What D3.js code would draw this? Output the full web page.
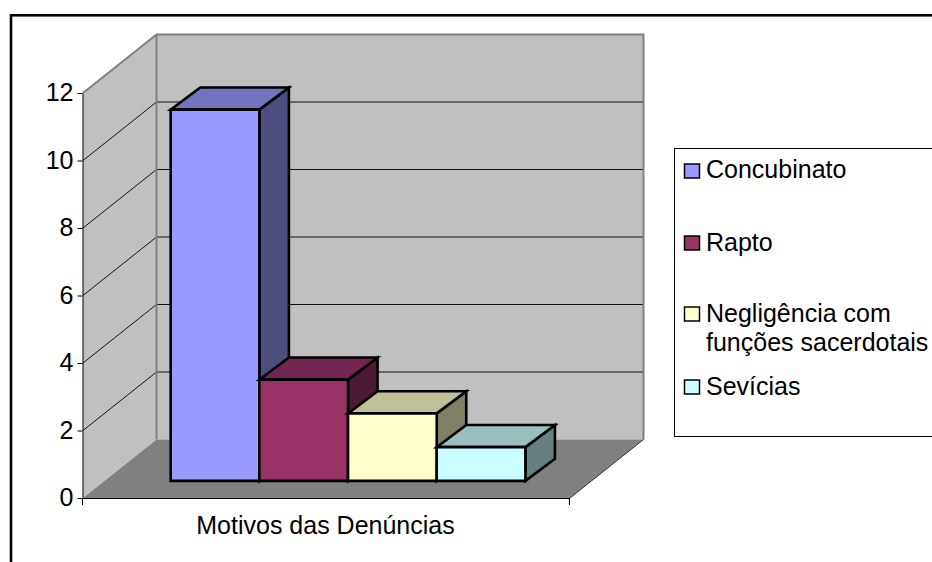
<!DOCTYPE html>
<html><head><meta charset="utf-8">
<script src="https://cdnjs.cloudflare.com/ajax/libs/d3/7.8.5/d3.min.js"></script>
<style>html,body{margin:0;padding:0;background:#fff}svg{display:block}text{font-family:"Liberation Sans",Arial,sans-serif;fill:#000}</style>
</head><body><svg id="c" width="932" height="562"></svg>
<script>
const seriesNames = ["Concubinato","Rapto","Negligência com|funções sacerdotais","Sevícias"];
const seriesValues = [11,3,2,1];
const seriesColors = ["#9999ff","#993366","#ffffcc","#ccffff"];
const topColors = ["#7373bf","#732650","#bfbf99","#99bfbf"];
const sideColors = ["#4d4d80","#4d1a33","#808066","#668080"];
const yTicks = [0,2,4,6,8,10,12];
const categoryLabel = "Motivos das Denúncias";

const svg = d3.select("#c");
const X0=83,X1=570;
const x = d3.scaleBand().domain(d3.range(seriesValues.length)).range([X0,X1]).paddingInner(0).paddingOuter(0.746);
const y = d3.scaleLinear().domain([0,12]).range([498,93]);
const depth = d3.scaleLinear().domain([0,1]).range([0,73.5]);
const rise = d3.scaleLinear().domain([0,1]).range([0,58.5]);
const P = (px,v,z,zr)=>[px+depth(z), y(v)-rise(zr===undefined?z:zr)];
const poly = pts => pts.map(p=>p.join(",")).join(" ");

svg.append("rect").attr("x",11).attr("y",15.3).attr("width",925).attr("height",560).attr("fill","#fff").attr("stroke","#000").attr("stroke-width",2.6);

// walls and floor
svg.append("polygon").attr("points",poly([P(X0,0,1),P(X1,0,1),P(X1,12,1),P(X0,12,1)])).attr("fill","#c0c0c0");
svg.append("polygon").attr("points",poly([P(X0,0,0),P(X0,0,1),P(X0,12,1),P(X0,12,0)])).attr("fill","#c0c0c0");
svg.append("polygon").attr("points",poly([P(X0,0,0),P(X1,0,0),P(X1,0,1),P(X0,0,1)])).attr("fill","#808080");
// gridlines
yTicks.filter(t=>t>0&&t<12).forEach(t=>{
  svg.append("polyline").attr("points",poly([P(X0,t,0),P(X0,t,1),P(X1,t,1)])).attr("fill","none").attr("stroke","#111").attr("stroke-width",1);
});
svg.append("polyline").attr("points",poly([P(X0,12,0),P(X0,12,1),P(X1,12,1),P(X1,0,1)])).attr("fill","none").attr("stroke","#808080").attr("stroke-width",2);
svg.append("line").attr("x1",P(X0,0,1)[0]).attr("y1",P(X0,0,1)[1]).attr("x2",P(X0,12,1)[0]).attr("y2",P(X0,12,1)[1]).attr("stroke","#808080").attr("stroke-width",2);
svg.append("polyline").attr("points",poly([P(X1,0,0),P(X1,0,1)])).attr("fill","none").attr("stroke","#333").attr("stroke-width",1);

// bars
const z0=0.293,z1=0.695,r1=0.67;
seriesValues.forEach((v,i)=>{
  const a=x(i), b=x(i)+x.bandwidth();
  const g=svg.append("g").attr("stroke","#000").attr("stroke-width",2.6).attr("stroke-linejoin","miter");
  g.append("polygon").attr("points",poly([P(b,0,z0),P(b,0,z1,r1),P(b,v,z1,r1),P(b,v,z0)])).attr("fill",sideColors[i]);
  g.append("polygon").attr("points",poly([P(a,v,z0),P(b,v,z0),P(b,v,z1,r1),P(a,v,z1,r1)])).attr("fill",topColors[i]);
  g.append("polygon").attr("points",poly([P(a,0,z0),P(b,0,z0),P(b,v,z0),P(a,v,z0)])).attr("fill",seriesColors[i]);
});

// axes
const yAxis = d3.axisLeft(y).tickValues(yTicks).tickSize(5).tickSizeOuter(0);
const ya = svg.append("g").attr("transform",`translate(${X0-0.5},0)`).call(yAxis);
ya.selectAll("text").style("font-size","25px").attr("x",-9).attr("dy","0.31em");
svg.append("line").attr("x1",X0).attr("x2",X1).attr("y1",498.5).attr("y2",498.5).attr("stroke","#000");
[X0,X1].forEach(px=>svg.append("line").attr("x1",px-0.5).attr("x2",px-0.5).attr("y1",498).attr("y2",505).attr("stroke","#000"));
svg.append("text").attr("x",325.5).attr("y",533.5).attr("text-anchor","middle").style("font-size","25px").text(categoryLabel);

// legend
svg.append("rect").attr("x",674.5).attr("y",148.5).attr("width",300).attr("height",288).attr("fill","#fff").attr("stroke","#000");
const rowY=[171,243,314,387];
const baseY=[178,251,[322,351],395];
seriesNames.forEach((n,i)=>{
  svg.append("rect").attr("x",684.5).attr("y",rowY[i]-7).attr("width",15).attr("height",14).attr("fill",seriesColors[i]).attr("stroke","#000").attr("stroke-width",1.5);
  const parts=n.split("|");
  parts.forEach((t,j)=>{
    svg.append("text").attr("x",706).attr("y",Array.isArray(baseY[i])?baseY[i][j]:baseY[i]).style("font-size","25px").text(t);
  });
});
</script></body></html>
